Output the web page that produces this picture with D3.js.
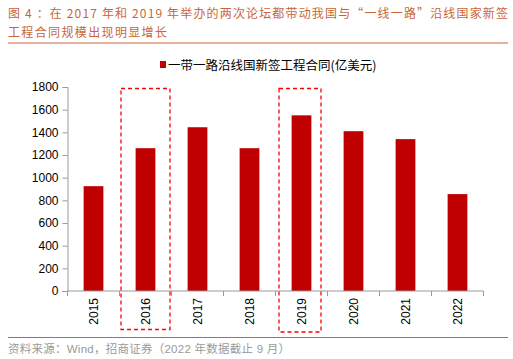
<!DOCTYPE html>
<html>
<head>
  <meta charset="utf-8">
  <script src="https://cdn.jsdelivr.net/npm/d3@7/dist/d3.min.js"></script>
  <style>
    body { margin: 0; background: #fff; }
    svg { display: block; font-family: "Liberation Sans", Arial, "Noto Sans CJK SC", sans-serif; }
    .title { font-family: "Noto Sans CJK SC", sans-serif; fill: #c8663a; font-size: 12px; }
    .source { font-family: "Liberation Sans", "Noto Sans CJK SC", sans-serif; fill: #9a9a9a; font-size: 11.5px; }
  </style>
</head>
<body>
  <svg id="chart" width="513" height="359"></svg>
  <script>
    // 数据
    var years = ["2015", "2016", "2017", "2018", "2019", "2020", "2021", "2022"];
    var values = [925, 1260, 1445, 1260, 1550, 1410, 1340, 855];
    var yTicks = [0, 200, 400, 600, 800, 1000, 1200, 1400, 1600, 1800];
    var highlightYears = ["2016", "2019"];
    var seriesName = "一带一路沿线国新签工程合同(亿美元)";

    var svg = d3.select("#chart");

    // 标题
    svg.append("text").attr("class", "title").attr("x", 8).attr("y", 18)
      .attr("textLength", 500).attr("lengthAdjust", "spacing")
      .text("图 4 ：在 2017 年和 2019 年举办的两次论坛都带动我国与“一线一路”沿线国家新签");
    svg.append("text").attr("class", "title").attr("x", 8).attr("y", 37)
      .attr("textLength", 159).attr("lengthAdjust", "spacing")
      .text("工程合同规模出现明显增长");
    svg.append("line").attr("x1", 8).attr("x2", 508).attr("y1", 43).attr("y2", 43)
      .attr("stroke", "#c8663a").attr("stroke-width", 1);

    // 比例尺
    var x = d3.scaleBand().domain(years).range([67.5, 483.5]).paddingInner(0.62).paddingOuter(0.31);
    var y = d3.scaleLinear().domain([0, 1800]).range([291, 87]);

    // 坐标轴
    var yAxis = svg.append("g").attr("transform", "translate(67.5,0)")
      .call(d3.axisLeft(y).tickValues(yTicks).tickFormat(d3.format("d")).tickSize(5).tickPadding(4));
    yAxis.select(".domain").attr("stroke", "#999");
    yAxis.selectAll(".tick line").attr("stroke", "#999");
    yAxis.selectAll("text").attr("font-size", 12).attr("fill", "#000")
      .attr("font-family", "Liberation Sans, Arial, sans-serif");

    // 柱子
    svg.selectAll("rect.bar")
      .data(values)
      .enter()
      .append("rect")
      .attr("class", "bar")
      .attr("x", function(d, i) { return x(years[i]); })
      .attr("width", x.bandwidth())
      .attr("y", function(d) { return y(d); })
      .attr("height", function(d) { return y(0) - y(d); })
      .attr("fill", "#c00000");

    // x 轴
    var step = x.step();
    var gx = svg.append("g").attr("transform", "translate(0," + y(0) + ")");
    gx.append("line").attr("x1", 67.5).attr("x2", 483.5).attr("stroke", "#999");
    gx.selectAll("line.tk")
      .data(d3.range(years.length + 1))
      .enter()
      .append("line")
      .attr("class", "tk")
      .attr("x1", function(i) { return 67.5 + i * step; })
      .attr("x2", function(i) { return 67.5 + i * step; })
      .attr("y1", 0).attr("y2", 5)
      .attr("stroke", "#999");
    gx.selectAll("text")
      .data(years)
      .enter()
      .append("text")
      .attr("transform", function(d) {
        return "translate(" + (x(d) + x.bandwidth() / 2 + 4.5) + ",7) rotate(-90)";
      })
      .attr("text-anchor", "end")
      .attr("font-size", 12)
      .attr("fill", "#000")
      .text(function(d) { return d; });

    // 虚线框
    var bottoms = { "2016": 329.5, "2019": 332 };
    svg.selectAll("rect.hl")
      .data(highlightYears)
      .enter()
      .append("rect")
      .attr("class", "hl")
      .attr("x", function(d) { return x(d) - step * 0.31 + 0.5 + (d === "2019" ? 3 : 1); })
      .attr("y", 88.5)
      .attr("width", function(d) { return d === "2019" ? 42 : 49; })
      .attr("height", function(d) { return bottoms[d] - 88.5; })
      .attr("fill", "none")
      .attr("stroke", "#ff0000")
      .attr("stroke-width", 1.3)
      .attr("stroke-dasharray", "4,3");

    // 图例
    svg.append("rect").attr("x", 160).attr("y", 61).attr("width", 6).attr("height", 7).attr("fill", "#c00000");
    svg.append("text").attr("x", 168).attr("y", 69.5)
      .attr("font-size", 12.5).attr("fill", "#000")
      .attr("font-family", "Noto Sans CJK SC, sans-serif")
      .text(seriesName);

    // 资料来源
    svg.append("line").attr("x1", 8).attr("x2", 508).attr("y1", 337.5).attr("y2", 337.5)
      .attr("stroke", "#c8663a").attr("stroke-width", 1);
    svg.append("text").attr("class", "source").attr("x", 8).attr("y", 353)
      .attr("textLength", 282).attr("lengthAdjust", "spacing")
      .text("资料来源：Wind，招商证券（2022 年数据截止 9 月）");
  </script>
</body>
</html>
